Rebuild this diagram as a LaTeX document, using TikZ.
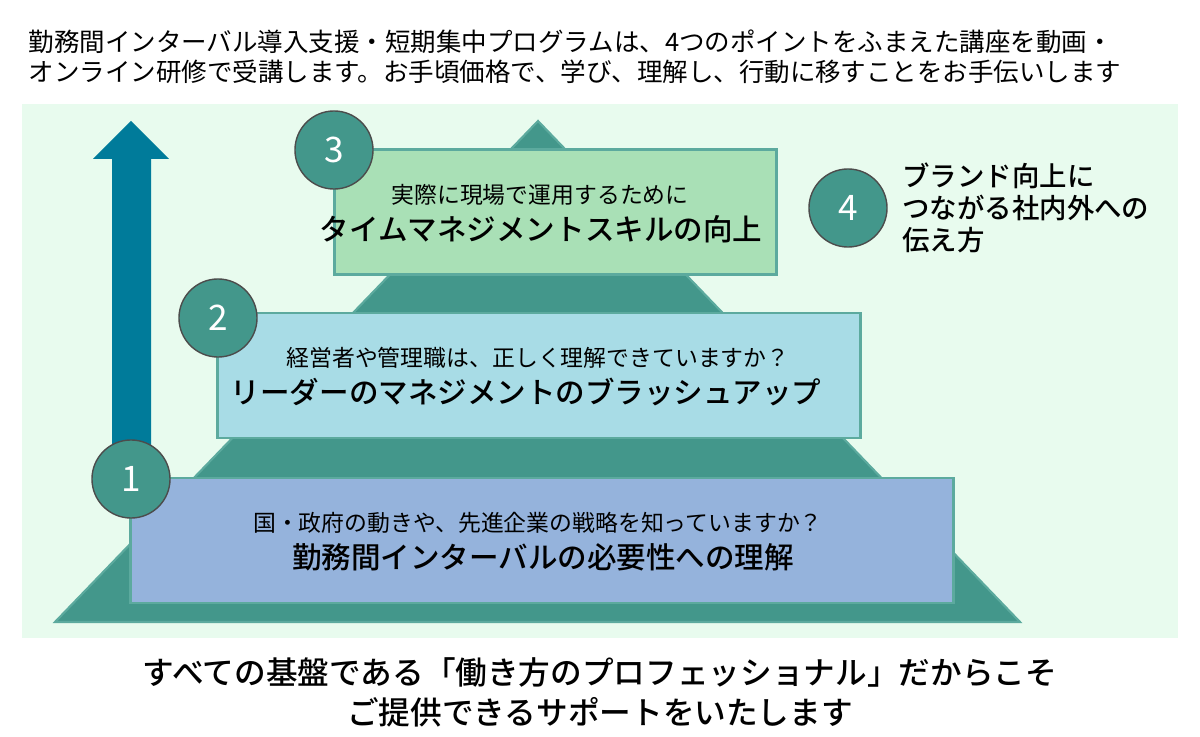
\documentclass[tikz,border=0pt]{standalone}
\usepackage{fontspec}
\setmainfont{Noto Sans CJK JP}[BoldFont={Noto Sans CJK JP Medium}]
\usepackage{tikz}
\usetikzlibrary{positioning,calc}
\usepackage{xcolor}
\definecolor{bggreen}{RGB}{232,251,238}
\definecolor{pyramidteal}{RGB}{67,151,139}
\definecolor{pyramidedge}{RGB}{92,170,158}
\definecolor{arrowblue}{RGB}{0,123,154}
\definecolor{tiergreen}{RGB}{169,224,182}
\definecolor{tierblue}{RGB}{168,220,230}
\definecolor{tierlav}{RGB}{149,179,220}

\begin{document}
\begin{tikzpicture}[
    x=0.01cm, y=-0.01cm,
    tier/.style={rectangle, draw=pyramidedge, line width=0.8pt, inner sep=0pt, minimum height=1.25cm},
    ask/.style={inner sep=0pt, font=\fontsize{6.5}{8}\selectfont},
    goal/.style={inner sep=0pt, font=\bfseries\fontsize{8.4}{10}\selectfont},
    num/.style={circle, draw=black!70, line width=0.4pt, fill=pyramidteal, text=white, minimum size=0.78cm, inner sep=0pt, font=\fontsize{10}{12}\selectfont},
    lead/.style={inner sep=0pt, align=left, font=\fontsize{7.25}{8.5}\selectfont}
]
    \useasboundingbox (0,0) rectangle (1200,737);

    % Intro
    \node[lead, anchor=west] (intro) at (28,57)
        {勤務間インターバル導入支援・短期集中プログラムは、4つのポイントをふまえた講座を動画・\\
         オンライン研修で受講します。お手頃価格で、学び、理解し、行動に移すことをお手伝いします};

    % Background and pyramid
    \fill[bggreen] (22,104) rectangle (1178,638);
    \draw[pyramidedge, fill=pyramidteal, line width=0.6pt] (538,121) -- (1020,622) -- (55,622) -- cycle;

    % Rising arrow
    \fill[arrowblue] (112,470) -- (112,159) -- (93,159) -- (131,121) -- (169,159) -- (151,159) -- (151,470) -- cycle;

    % Tiers
    \node[tier, fill=tiergreen, minimum width=4.41cm] (tier3) at (555.5,212) {};
    \node[tier, fill=tierblue, minimum width=6.42cm] (tier2) at (539,375.5) {};
    \node[tier, fill=tierlav, minimum width=8.22cm] (tier1) at (542,540.5) {};

    \node[ask] (ask3) at (540,195) {実際に現場で運用するために};
    \node[goal] (goal3) at (541,229) {タイムマネジメントスキルの向上};
    \node[ask] (ask2) at (538,358) {経営者や管理職は、正しく理解できていますか？};
    \node[goal] (goal2) at (526,392) {リーダーのマネジメントのブラッシュアップ};
    \node[ask] (ask1) at (538,523) {国・政府の動きや、先進企業の戦略を知っていますか？};
    \node[goal] (goal1) at (543,557) {勤務間インターバルの必要性への理解};

    % Points
    \node[num] (n1) at (131,479) {1};
    \node[num] (n2) at (218,318) {2};
    \node[num] (n3) at (334,150) {3};
    \node[num] (n4) at (848,208) {4};
    \node[lead, anchor=west, font=\bfseries\fontsize{7.8}{9}\selectfont, right=0.14cm of n4] (brand)
        {ブランド向上に\\つながる社内外への\\伝え方};

    % Closing
    \node[inner sep=0pt, align=center, font=\bfseries\fontsize{9}{11.4}\selectfont] (closing) at (600,692)
        {すべての基盤である「働き方のプロフェッショナル」だからこそ\\ご提供できるサポートをいたします};
\end{tikzpicture}
\end{document}
